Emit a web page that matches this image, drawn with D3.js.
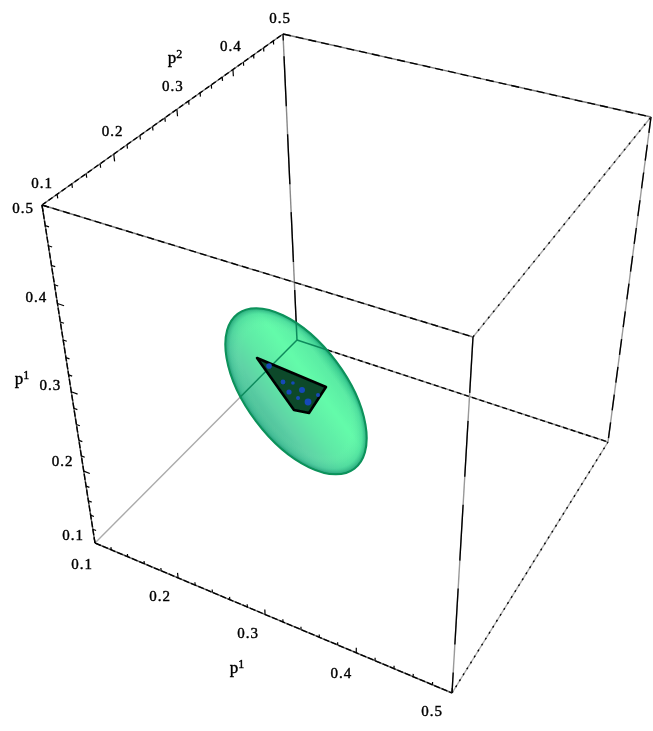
<!DOCTYPE html>
<html>
<head>
<meta charset="utf-8">
<script src="https://cdn.jsdelivr.net/npm/d3@7"></script>
<style>
    html, body { margin: 0; padding: 0; background: #fff; }
    text { font-family: "Liberation Serif", serif; fill: #000; stroke: #000; stroke-width: 0.4px; }
</style>
</head>
<body>
<div id="chart"></div>
<script>
// axis values
const majorTicks = [0.1, 0.2, 0.3, 0.4, 0.5];
const tickLabels = ["0.1", "0.2", "0.3", "0.4", "0.5"];
const minorTicks = [0.12, 0.14, 0.16, 0.18, 0.22, 0.24, 0.26, 0.28, 0.32, 0.34, 0.36, 0.38, 0.42, 0.44, 0.46, 0.48];
const axisNames = ["p", "p", "p"];
const axisIndices = ["1", "2", "1"];

// ellipsoid and the wedge inside it, in picture units (0-1 of the page width)
const ellipsoidCenter = [0.4533, 0.5992];
const ellipsoidRadii = [0.1485, 0.0766];
const ellipsoidTilt = 53;
const wedge = [[0.3936, 0.5482], [0.4992, 0.5926], [0.4732, 0.6325], [0.4502, 0.6278]];
const specks = [[0.412, 0.5605, 2.8], [0.4334, 0.585, 2.4], [0.4426, 0.6003, 2.6], [0.4625, 0.5972, 3],
    [0.4717, 0.6156, 3.4], [0.487, 0.6049, 2], [0.4564, 0.6095, 2], [0.4486, 0.5865, 1.8]];

const W = 653, H = 731;

const svg = d3.select("#chart").append("svg")
    .attr("width", W)
    .attr("height", H)
    .style("display", "block");

const defs = svg.append("defs");

// source picture is a soft upscale
defs.append("filter").attr("id", "soft")
    .attr("filterUnits", "userSpaceOnUse")
    .attr("x", 0).attr("y", 0).attr("width", W).attr("height", H)
    .append("feGaussianBlur").attr("stdDeviation", 0.6);

const sheen = defs.append("linearGradient").attr("id", "sheen")
    .attr("x1", 0).attr("y1", 1).attr("x2", 0).attr("y2", 0);
[[0, "#48b896"], [0.22, "#5ed2a6"], [0.42, "#5fe8a6"], [0.68, "#64fbaa"], [0.88, "#5aeca4"], [1, "#35cc8c"]]
    .forEach(d => sheen.append("stop").attr("offset", d[0]).attr("stop-color", d[1]));

const rim = defs.append("radialGradient").attr("id", "rim");
[[0, "#7cf5b4", 0], [0.76, "#7cf5b4", 0], [0.93, "#2fb98c", 0.3], [1, "#128a68", 0.75]]
    .forEach(d => rim.append("stop").attr("offset", d[0]).attr("stop-color", d[1]).attr("stop-opacity", d[2]));

// cube corners on the page, by p1/p2/p3 end (0 = 0.1, 1 = 0.5)
const corners = {
    "000": [95, 543], "100": [452, 693], "010": [297, 340], "110": [608, 442],
    "001": [42, 205], "101": [473, 337], "011": [283, 34], "111": [651, 117]
};
// perspective weight per axis
const persp = [-0.09, 0.22, -0.19];

const cube = d3.scaleLinear().domain([0.1, 0.5]).range([0, 1]);
const page = d3.scaleLinear().domain([0, 1]).range([0, W]);

function project(p1, p2, p3) {
    const t = [cube(p1), cube(p2), cube(p3)];
    let x = 0, y = 0, sum = 0;
    Object.keys(corners).forEach(key => {
        const bits = key.split("").map(Number);
        const depth = 1 + d3.sum(bits, (b, i) => b * persp[i]);
        const basis = bits.reduce((acc, b, i) => acc * (b ? t[i] : 1 - t[i]), 1) * depth;
        x += basis * corners[key][0];
        y += basis * corners[key][1];
        sum += basis;
    });
    return [x / sum, y / sum];
}

const root = svg.append("g").attr("filter", "url(#soft)");
root.append("rect").attr("width", W).attr("height", H).attr("fill", "#fff");

// box edges: from, to, grey underlay, dark dash pattern
const edges = [
    ["000", "010", "#aaa", null],
    ["010", "011", "#888", "50 28"],
    ["010", "110", "#888", "5 3"],
    ["000", "100", "#666", "6 2"],
    ["000", "001", "#555", "6 2"],
    ["001", "011", "#666", "5 3"],
    ["001", "101", "#777", "7 4"],
    ["011", "111", "#777", "8 5"],
    ["101", "111", "#aaa", "2 6"],
    ["100", "110", "#aaa", "2 5"],
    ["101", "100", "#999", "56 28"],
    ["111", "110", "#999", "16 12"]
];

const cornerValue = bit => (bit === "1" ? 0.5 : 0.1);
const cornerPoint = key => project(cornerValue(key[0]), cornerValue(key[1]), cornerValue(key[2]));

const edgeLayer = root.append("g").attr("fill", "none");
edges.forEach(e => {
    const a = cornerPoint(e[0]), b = cornerPoint(e[1]);
    edgeLayer.append("line")
        .attr("x1", a[0]).attr("y1", a[1]).attr("x2", b[0]).attr("y2", b[1])
        .attr("stroke", e[2]).attr("stroke-width", 1.4);
    if (e[3]) {
        edgeLayer.append("line")
            .attr("x1", a[0]).attr("y1", a[1]).attr("x2", b[0]).attr("y2", b[1])
            .attr("stroke", "#000").attr("stroke-width", 1.35)
            .attr("stroke-dasharray", e[3]);
    }
});

// ticks, drawn along the neighbouring cube axis
const axes = [
    { // p3 edge on the left, ticks lean towards p1
        at: v => [0.1, 0.1, v], toward: v => [0.1 + 0.004, 0.1, v],
        offsets: [[-22, -8], [-21, -10], [-21, -7], [-21, -7], [-19, 3]],
        name: [22, 378], index: 0
    },
    { // p2 edge at the top, ticks lean downward
        at: v => [0.1, v, 0.5], toward: v => [0.1, v, 0.5 - 0.004],
        offsets: [[0, -22], [-1, -23], [-4, -24], [-2, -24], [-3, -16]],
        name: [175, 57], index: 1
    },
    { // p1 edge at the bottom, ticks lean upward
        at: v => [v, 0.1, 0.1], toward: v => [v, 0.1, 0.1 + 0.004],
        offsets: [[-13, 21], [-18, 18], [-17, 18], [-15, 20], [-20, 18]],
        name: [237, 667], index: 2
    }
];

const tickLayer = root.append("g").attr("stroke", "#000").attr("stroke-width", 1.2);
axes.forEach(axis => {
    const drawTick = (v, scale) => {
        const a = project(...axis.at(v));
        const b = project(...axis.toward(v));
        tickLayer.append("line")
            .attr("x1", a[0]).attr("y1", a[1])
            .attr("x2", a[0] + (b[0] - a[0]) * scale)
            .attr("y2", a[1] + (b[1] - a[1]) * scale);
    };
    majorTicks.forEach(v => drawTick(v, 1.8));
    minorTicks.forEach(v => drawTick(v, 1));

    majorTicks.forEach((v, i) => {
        const a = project(...axis.at(v));
        root.append("text")
            .attr("x", a[0] + axis.offsets[i][0])
            .attr("y", a[1] + axis.offsets[i][1])
            .attr("text-anchor", "middle")
            .attr("dy", "0.35em")
            .style("font-size", "15px")
            .style("letter-spacing", "1px")
            .text(tickLabels[i]);
    });

    const label = root.append("text")
        .attr("x", axis.name[0]).attr("y", axis.name[1])
        .attr("text-anchor", "middle")
        .attr("dy", "0.35em")
        .style("font-size", "17px");
    label.append("tspan").text(axisNames[axis.index]);
    label.append("tspan").attr("dy", "-5px").style("font-size", "12px").text(axisIndices[axis.index]);
});

// ellipsoid
const cx = page(ellipsoidCenter[0]), cy = page(ellipsoidCenter[1]);
const rx = page(ellipsoidRadii[0]), ry = page(ellipsoidRadii[1]);
const tilt = `rotate(${ellipsoidTilt} ${cx} ${cy})`;

defs.append("clipPath").attr("id", "inside")
    .append("ellipse")
    .attr("cx", cx).attr("cy", cy).attr("rx", rx).attr("ry", ry)
    .attr("transform", tilt);

root.append("ellipse")
    .attr("cx", cx).attr("cy", cy).attr("rx", rx).attr("ry", ry)
    .attr("transform", tilt)
    .attr("fill", "url(#sheen)");
root.append("ellipse")
    .attr("cx", cx).attr("cy", cy).attr("rx", rx).attr("ry", ry)
    .attr("transform", tilt)
    .attr("fill", "url(#rim)")
    .attr("stroke", "#08925a")
    .attr("stroke-width", 2);

// back edges show through the surface in green
const through = root.append("g").attr("clip-path", "url(#inside)")
    .attr("stroke", "#0f8a5c").attr("stroke-width", 1.5);
[["000", "010"], ["010", "011"], ["010", "110"]].forEach(e => {
    const a = cornerPoint(e[0]), b = cornerPoint(e[1]);
    through.append("line").attr("x1", a[0]).attr("y1", a[1]).attr("x2", b[0]).attr("y2", b[1]);
});

// wedge with the blue patches poking through
const wedgePath = d3.line().x(d => page(d[0])).y(d => page(d[1])).curve(d3.curveLinearClosed);
root.append("path")
    .attr("d", wedgePath(wedge))
    .attr("fill", "#074a2c")
    .attr("stroke", "#000")
    .attr("stroke-width", 2.6)
    .attr("stroke-linejoin", "round");
root.append("g").selectAll("circle")
    .data(specks)
    .join("circle")
    .attr("cx", d => page(d[0]))
    .attr("cy", d => page(d[1]))
    .attr("r", d => d[2])
    .attr("fill", "#1848b8");
</script>
</body>
</html>
